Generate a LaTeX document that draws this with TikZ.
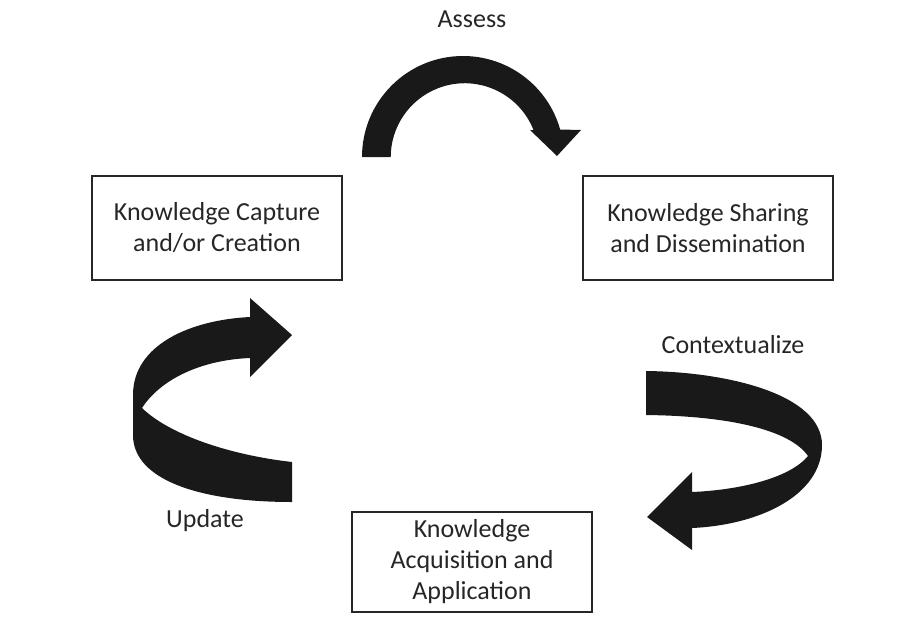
\documentclass[tikz,border=0pt]{standalone}
\usepackage{fontspec}
\setmainfont{Carlito}
\usetikzlibrary{positioning}

\begin{document}
\begin{tikzpicture}[x=1pt, y=-1pt, font=\fontsize{26}{31}\selectfont]
	\tikzstyle{format} = [draw=black!85, line width=2.5pt, rectangle, align=center, text=black!85, inner sep=0pt]
	\tikzstyle{phase} = [text=black!85, inner sep=0pt]
	\tikzstyle{ribbon} = [fill=black!90, draw=none]

	\useasboundingbox (0,0) rectangle (912,616);

	\path
		node[format, minimum width=250pt, minimum height=104pt] (1) at (217,228) {Knowledge Capture\\and/or Creation}
		node[format, minimum width=250pt, minimum height=104pt] (2) at (708,228) {Knowledge Sharing\\and Dissemination}
		node[format, minimum width=240pt, minimum height=100pt] (3) at (472,562) {Knowledge\\Acquisition and\\Application}

		node[phase] (assess) at (472,19) {Assess}
		node[phase] (context) at (733,345) {Contextualize}
		node[phase] (update) at (205,521) {Update}
	;

	% assess: capture -> sharing
	\fill[ribbon] (362,157) arc[start angle=180, end angle=344.2, radius=101]
		-- (581,130) -- (557,156) -- (530,130) -- (533.5,130)
		arc[start angle=338.4, end angle=180, radius=74] -- cycle;

	% contextualize: sharing -> acquisition
	\fill[ribbon] (646,371) .. controls (730,372) and (822,395) .. (822,445)
		.. controls (822,495) and (760,525) .. (692,528)
		-- (692,550) -- (647,517) -- (692,472) -- (692,492)
		.. controls (740,490) and (790,478) .. (808,456)
		.. controls (790,430) and (730,416) .. (646,415) -- cycle;

	% update: acquisition -> capture
	\fill[ribbon] (292,462) .. controls (230,455) and (170,435) .. (142,408)
		.. controls (160,380) and (200,360) .. (250,358)
		-- (250,377) -- (292,335) -- (250,298) -- (250,317)
		.. controls (190,320) and (133,345) .. (133,395)
		-- (133,435) .. controls (133,480) and (200,502) .. (292,502) -- cycle;
\end{tikzpicture}
\end{document}
